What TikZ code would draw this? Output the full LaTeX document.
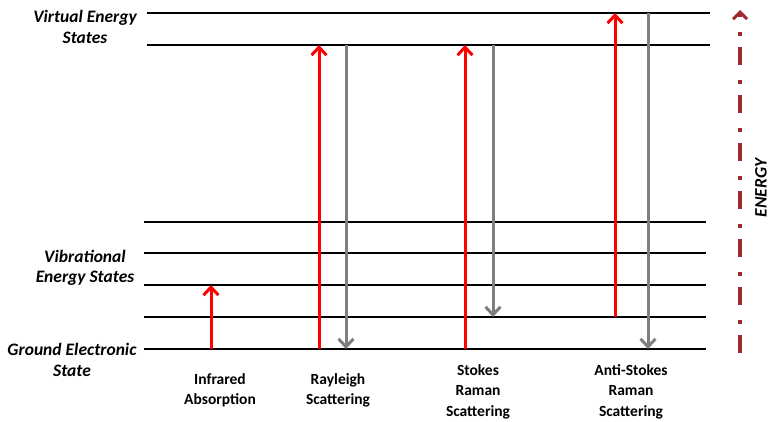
\documentclass[tikz,border=0pt]{standalone}
\usepackage{fontspec}
\setmainfont{Carlito}[BoldFont={* Bold},BoldItalicFont={* Bold Italic},ItalicFont={* Italic}]
\usetikzlibrary{arrows.meta}
\definecolor{enred}{HTML}{9E2A2F}
\definecolor{upred}{HTML}{FF0000}
\definecolor{downgray}{HTML}{7F7F7F}
\begin{document}
\begin{tikzpicture}[x=1pt,y=-1pt,
  level/.style={line width=2.4pt,black},
  uparrow/.style={line width=3pt,upred,-{Straight Barb[length=8pt,width=15pt,line width=3pt]}},
  downarrow/.style={line width=3pt,downgray,-{Straight Barb[length=8pt,width=15pt,line width=3pt]}},
  lbl/.style={font=\fontsize{17.5}{20.5}\selectfont\bfseries\itshape,align=center,inner sep=0pt},
  blbl/.style={font=\fontsize{15.5}{20.5}\selectfont\bfseries,align=center,inner sep=0pt,anchor=north}]
\useasboundingbox (0,0) rectangle (770,422);
% levels
\coordinate (v1l) at (147,13); \coordinate (v1r) at (710,13);
\coordinate (v2l) at (147,45); \coordinate (v2r) at (710,45);
\coordinate (s4l) at (144,222); \coordinate (s4r) at (706,222);
\coordinate (s3l) at (144,253); \coordinate (s3r) at (706,253);
\coordinate (s2l) at (144,285); \coordinate (s2r) at (706,285);
\coordinate (s1l) at (144,317); \coordinate (s1r) at (706,317);
\coordinate (g0l) at (144,349); \coordinate (g0r) at (706,349);
\foreach \a in {v1,v2,s4,s3,s2,s1,g0} \draw[level] (\a l) -- (\a r);
% arrows
\coordinate (ir0) at (211,349); \coordinate (ir1) at (211,285);
\draw[uparrow] (ir0) -- (ir1);
\coordinate (ry0) at (319,349); \coordinate (ry1) at (319,45);
\coordinate (rd0) at (346,45); \coordinate (rd1) at (346,349);
\draw[uparrow] (ry0) -- (ry1);
\draw[downarrow] (rd0) -- (rd1);
\coordinate (st0) at (465,349); \coordinate (st1) at (465,45);
\coordinate (sd0) at (493,45); \coordinate (sd1) at (493,317);
\draw[uparrow] (st0) -- (st1);
\draw[downarrow] (sd0) -- (sd1);
\coordinate (as0) at (615,317); \coordinate (as1) at (615,13);
\coordinate (ad0) at (648,13); \coordinate (ad1) at (648,349);
\draw[uparrow] (as0) -- (as1);
\draw[downarrow] (ad0) -- (ad1);
% energy axis
\coordinate (e0) at (740,353); \coordinate (e1) at (740,10);
\draw[enred,line width=4pt,dash pattern=on 18pt off 11pt on 4pt off 15pt,
  -{Straight Barb[length=7pt,width=14pt,line width=3pt]}] (e0) -- (e1);
\node[lbl,rotate=90] (energy) at (761,188) {ENERGY};
% left labels
\node[lbl] (virt) at (85,27) {Virtual Energy\\States};
\node[lbl] (vib) at (85,268) {Vibrational\\Energy States};
\node[lbl] (gnd) at (72,360) {Ground Electronic\\State};
% bottom labels
\node[blbl] (irl) at (220,373) {Infrared\\Absorption};
\node[blbl] (ral) at (338,373) {Rayleigh\\Scattering};
\node[blbl] (stl) at (478,364) {Stokes\\Raman\\Scattering};
\node[blbl] (asl) at (631,364) {Anti-Stokes\\Raman\\Scattering};
\end{tikzpicture}
\end{document}
